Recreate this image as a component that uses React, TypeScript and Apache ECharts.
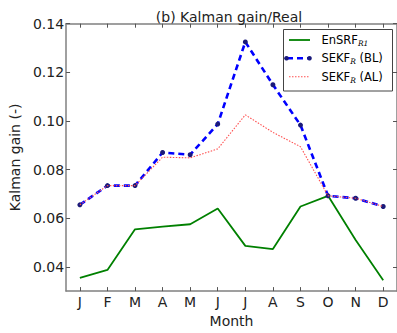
import React, { useEffect, useRef } from "react";
import * as echarts from "echarts";

const months = ["J", "F", "M", "A", "M", "J", "J", "A", "S", "O", "N", "D"];
const ensrf = [0.0354, 0.0387, 0.0554, 0.0565, 0.0575, 0.064, 0.0486, 0.0473, 0.0648, 0.0692, 0.051, 0.0345];
const sekfBL = [0.0655, 0.0734, 0.0734, 0.087, 0.0861, 0.0987, 0.1325, 0.1149, 0.0983, 0.0692, 0.0682, 0.0648];
const sekfAL = [0.0655, 0.0734, 0.0734, 0.0851, 0.0848, 0.0885, 0.1025, 0.0953, 0.0894, 0.0692, 0.0682, 0.0648];
const yTicks = [0.04, 0.06, 0.08, 0.1, 0.12, 0.14];
const seriesNames = ["EnSRF_R1", "SEKF_R (BL)", "SEKF_R (AL)"];
const legendLabels = ["{n|EnSRF}{s|R1}", "{n|SEKF}{s|R}{n| (BL)}", "{n|SEKF}{s|R}{n| (AL)}"];

const FONT = "DejaVu Sans";
const AXIS_COLOR = "#808080";
const GREEN = "#008000";
const BLUE = "#0000ff";
const DOT = "#1a1a7a";
const RED = "#ff5050";

export default function App() {
  const ref = useRef<HTMLDivElement>(null);
  useEffect(() => {
    const chart = echarts.init(ref.current!, null, { renderer: "svg" });
    const gridLeft = 59;
    const gridTop = 23.7;
    const gridW = 340.5;
    const gridH = 278.3;
    const axisCommon = {
      axisLine: { show: true, lineStyle: { color: AXIS_COLOR, width: 1.5 } },
      splitLine: { show: false },
    };
    const rich = {
      n: { fontFamily: FONT, fontSize: 11.5, color: "#222" },
      s: {
        fontFamily: "DejaVu Serif",
        fontStyle: "italic",
        fontSize: 7.5,
        color: "#222",
        padding: [7, 0, 0, 0],
      },
    };
    const rowsY = [40, 58.3, 76.7];
    const legendGraphics: any[] = [
      {
        type: "rect",
        shape: { x: 283.5, y: 29.5, width: 109, height: 61.5 },
        style: { fill: "#fff", stroke: "#444", lineWidth: 1 },
        z: 20,
      },
      {
        type: "line",
        shape: { x1: 289, y1: rowsY[0], x2: 310, y2: rowsY[0] },
        style: { stroke: GREEN, lineWidth: 1.8 },
        z: 21,
      },
      {
        type: "line",
        shape: { x1: 287, y1: rowsY[1], x2: 310, y2: rowsY[1] },
        style: { stroke: BLUE, lineWidth: 2.6, lineDash: [6, 4] },
        z: 21,
      },
      { type: "circle", shape: { cx: 286.5, cy: rowsY[1], r: 2.3 }, style: { fill: DOT }, z: 22 },
      { type: "circle", shape: { cx: 309.5, cy: rowsY[1], r: 2.3 }, style: { fill: DOT }, z: 22 },
      {
        type: "line",
        shape: { x1: 289, y1: rowsY[2], x2: 310, y2: rowsY[2] },
        style: { stroke: RED, lineWidth: 1.1, lineDash: [1.5, 1.5] },
        z: 21,
      },
    ];
    legendLabels.forEach((t, i) => {
      legendGraphics.push({
        type: "text",
        x: 321.5,
        y: rowsY[i],
        style: { text: t, rich, textVerticalAlign: "middle", textAlign: "left" },
        z: 22,
      });
    });
    chart.setOption({
      animation: false,
      grid: { left: gridLeft, top: gridTop, width: gridW, height: gridH, containLabel: false },
      graphic: [
        {
          type: "text",
          x: 229,
          y: 17,
          style: {
            text: "(b) Kalman gain/Real",
            font: `14px '${FONT}'`,
            fill: "#222",
            textAlign: "center",
            textVerticalAlign: "middle",
          },
          z: 10,
        },
        ...legendGraphics,
      ],
      xAxis: [
        {
          type: "category",
          data: months,
          boundaryGap: true,
          name: "Month",
          nameLocation: "middle",
          nameGap: 19,
          nameTextStyle: { fontFamily: FONT, fontSize: 14, color: "#222" },
          ...axisCommon,
          axisTick: { show: true, inside: true, alignWithLabel: true, length: 4, lineStyle: { color: "#555" } },
          axisLabel: { fontFamily: FONT, fontSize: 14, color: "#222", margin: 4 },
        },
        {
          type: "category",
          data: months,
          boundaryGap: true,
          position: "top",
          ...axisCommon,
          axisTick: { show: true, inside: true, alignWithLabel: true, length: 4, lineStyle: { color: "#555" } },
          axisLabel: { show: false },
        },
      ],
      yAxis: [
        {
          type: "value",
          min: 0.03,
          max: 0.14,
          name: "Kalman gain (-)",
          nameLocation: "middle",
          nameGap: 37,
          nameTextStyle: { fontFamily: FONT, fontSize: 14, color: "#222" },
          ...axisCommon,
          axisTick: { show: true, inside: true, length: 4, customValues: yTicks, lineStyle: { color: "#555" } },
          axisLabel: {
            fontFamily: FONT,
            fontSize: 14,
            color: "#222",
            margin: 2,
            customValues: yTicks,
            formatter: (v: number) => v.toFixed(2),
          },
        },
        {
          type: "value",
          min: 0.03,
          max: 0.14,
          position: "right",
          ...axisCommon,
          axisTick: { show: true, inside: true, length: 4, customValues: yTicks, lineStyle: { color: "#555" } },
          axisLabel: { show: false },
        },
      ],
      series: [
        {
          name: seriesNames[0],
          type: "line",
          data: ensrf,
          showSymbol: false,
          symbol: "none",
          lineStyle: { color: GREEN, width: 1.8 },
          itemStyle: { color: GREEN },
          z: 3,
        },
        {
          name: seriesNames[1],
          type: "line",
          data: sekfBL,
          symbol: "circle",
          symbolSize: 5,
          lineStyle: { color: BLUE, width: 2.6, type: [6, 4] },
          itemStyle: { color: DOT },
          z: 4,
        },
        {
          name: seriesNames[2],
          type: "line",
          data: sekfAL,
          symbol: "none",
          lineStyle: { color: RED, width: 1.1, type: [1.5, 1.5] },
          itemStyle: { color: RED },
          z: 5,
        },
      ],
    });
    return () => chart.dispose();
  }, []);
  return <div ref={ref} style={{ width: 397, height: 333, position: "absolute", left: 0, top: 0 }} />;
}
